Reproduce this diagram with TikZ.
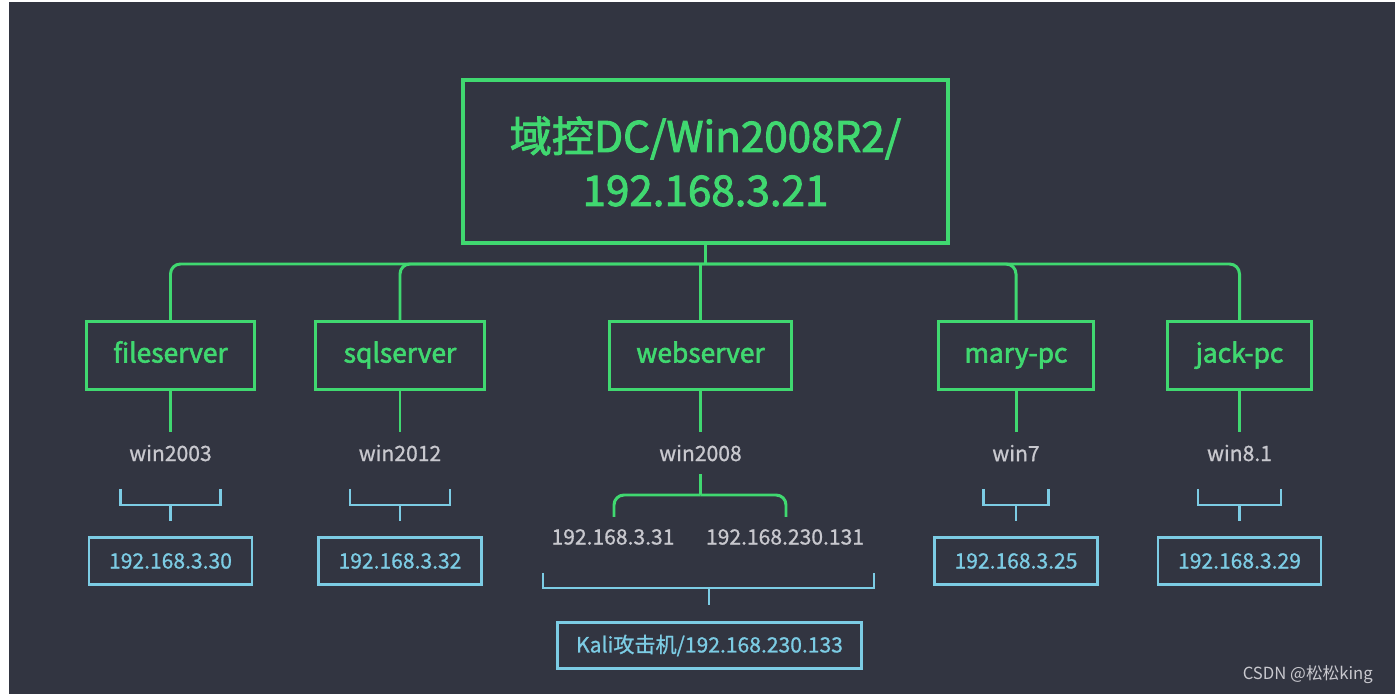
\documentclass[tikz,border=0pt]{standalone}
\usepackage{fontspec}
\setmainfont{Noto Sans CJK SC}[BoldFont=Noto Sans CJK SC, BoldFeatures={FakeBold=2.2}]
\newfontfamily\medfont{Noto Sans CJK SC}[FakeBold=0.9]
\definecolor{bgdark}{RGB}{50,53,65}
\definecolor{dcgreen}{RGB}{64,216,112}
\definecolor{ipblue}{RGB}{124,204,228}
\definecolor{osgrey}{RGB}{200,200,206}
\tikzset{
  link/.style={dcgreen, line width=1.7pt},
  wire/.style={ipblue, line width=1.5pt},
  dcbox/.style={draw=dcgreen, line width=2.3pt, text=dcgreen, align=center,
    minimum width=9.7cm, minimum height=3.26cm, font=\fontsize{24}{30.7}\selectfont\bfseries},
  hostbox/.style={draw=dcgreen, line width=1.7pt, text=dcgreen, text height=11pt, text depth=3pt,
    minimum height=1.36cm, font=\fontsize{15}{18}\selectfont\bfseries},
  ipbox/.style={draw=ipblue, line width=1.5pt, text=ipblue,
    minimum height=0.94cm, font=\fontsize{12}{14}\selectfont\medfont},
  oslabel/.style={text=osgrey, font=\fontsize{12}{14}\selectfont\medfont}
}
\begin{document}
\begin{tikzpicture}
    \fill[white] (0,0) rectangle (27.9,13.88);
    \fill[bgdark] (0.18,0) rectangle (27.9,13.84);
    \useasboundingbox (0,0) rectangle (27.9,13.88);

    % ===== domain controller =====
    \node[dcbox] (dc) at (14.11,10.65) {域控DC/Win2008R2/\\192.168.3.21};
    \coordinate (bus) at (14.11,8.6);
    \draw[link] (dc.south) -- (bus);

    % ===== fileserver =====
    \def\xA{3.41}
    \node[hostbox, minimum width=3.36cm] (file) at (\xA,6.77) {fileserver};
    \draw[link, rounded corners=0.2cm] (bus) -| (file.north);
    \draw[link] (file.south) -- ++(0,-0.82);
    \node[oslabel] (fileos) at (\xA,4.82) {win2003};
    \draw[wire] (\xA-1.0,4.1) -- (\xA-1.0,3.78) -- (\xA+1.0,3.78) -- (\xA+1.0,4.1);
    \draw[wire] (\xA,3.78) -- (\xA,3.46);
    \node[ipbox, minimum width=3.26cm] (fileip) at (\xA,2.66) {192.168.3.30};

    % ===== sqlserver =====
    \def\xB{8.0}
    \node[hostbox, minimum width=3.38cm] (sql) at (\xB,6.77) {sqlserver};
    \draw[link, rounded corners=0.2cm] (bus) -| (sql.north);
    \draw[link] (sql.south) -- ++(0,-0.82);
    \node[oslabel] (sqlos) at (\xB,4.82) {win2012};
    \draw[wire] (\xB-1.0,4.1) -- (\xB-1.0,3.78) -- (\xB+1.0,3.78) -- (\xB+1.0,4.1);
    \draw[wire] (\xB,3.78) -- (\xB,3.46);
    \node[ipbox, minimum width=3.26cm] (sqlip) at (\xB,2.66) {192.168.3.32};

    % ===== webserver, two nics =====
    \def\xC{14.01}
    \node[hostbox, minimum width=3.64cm] (web) at (\xC,6.77) {webserver};
    \draw[link] (web.north) -- (web.north |- bus);
    \draw[link] (web.south) -- ++(0,-0.82);
    \node[oslabel] (webos) at (\xC,4.82) {win2008};
    \node[oslabel] (webipa) at (12.26,3.14) {192.168.3.31};
    \node[oslabel] (webipb) at (15.7,3.14) {192.168.230.131};
    \draw[link] (\xC,4.4) -- (\xC,3.98);
    \draw[link, rounded corners=0.2cm] (\xC,3.98) -| (12.28,3.54);
    \draw[link, rounded corners=0.2cm] (\xC,3.98) -| (15.72,3.54);
    \draw[wire] (10.86,2.42) -- (10.86,2.12) -- (17.48,2.12) -- (17.48,2.42);
    \draw[wire] (14.18,2.12) -- (14.18,1.78);
    \node[ipbox, minimum width=6.08cm, minimum height=0.92cm] (kali) at (14.19,0.97) {Kali攻击机/192.168.230.133};

    % ===== mary-pc =====
    \def\xD{20.32}
    \node[hostbox, minimum width=3.1cm] (mary) at (\xD,6.77) {mary-pc};
    \draw[link, rounded corners=0.2cm] (bus) -| (mary.north);
    \draw[link] (mary.south) -- ++(0,-0.82);
    \node[oslabel] (maryos) at (\xD,4.82) {win7};
    \draw[wire] (\xD-0.65,4.1) -- (\xD-0.65,3.78) -- (\xD+0.65,3.78) -- (\xD+0.65,4.1);
    \draw[wire] (\xD,3.78) -- (\xD,3.46);
    \node[ipbox, minimum width=3.26cm] (maryip) at (\xD,2.66) {192.168.3.25};

    % ===== jack-pc =====
    \def\xE{24.79}
    \node[hostbox, minimum width=2.88cm] (jack) at (\xE,6.77) {jack-pc};
    \draw[link, rounded corners=0.2cm] (bus) -| (jack.north);
    \draw[link] (jack.south) -- ++(0,-0.82);
    \node[oslabel] (jackos) at (\xE,4.82) {win8.1};
    \draw[wire] (\xE-0.83,4.1) -- (\xE-0.83,3.78) -- (\xE+0.83,3.78) -- (\xE+0.83,4.1);
    \draw[wire] (\xE,3.78) -- (\xE,3.46);
    \node[ipbox, minimum width=3.26cm] (jackip) at (\xE,2.66) {192.168.3.29};

    \node[anchor=east, text=osgrey, font=\fontsize{9.5}{11}\selectfont] (mark) at (27.58,0.38) {CSDN @松松king};
\end{tikzpicture}
\end{document}
